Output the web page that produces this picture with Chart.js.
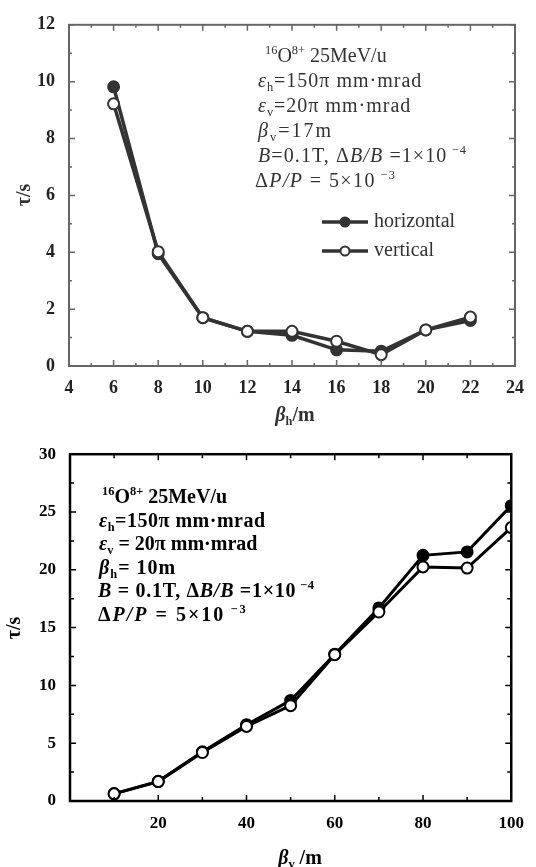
<!DOCTYPE html>
<html>
<head>
<meta charset="utf-8">
<script src="https://cdn.jsdelivr.net/npm/chart.js@4/dist/chart.umd.min.js"></script>
<style>
  html, body { margin: 0; padding: 0; background: #fff; }
  #wrap { position: relative; width: 536px; height: 867px; overflow: hidden; }
  .box { position: absolute; left: 0; width: 536px; }
  #topBox { top: 0; height: 430px; }
  #bottomBox { top: 430px; height: 437px; }
</style>
</head>
<body>
<div id="wrap">
  <div class="box" id="topBox"><canvas id="topChart" width="536" height="430"></canvas></div>
  <div class="box" id="bottomBox"><canvas id="bottomChart" width="536" height="437"></canvas></div>
</div>
<script>
// data
const topBetaH = [6, 8, 10, 12, 14, 16, 18, 20, 22];
const topHorizontal = [9.82, 3.95, 1.7, 1.22, 1.08, 0.57, 0.52, 1.27, 1.6];
const topVertical = [9.22, 4.02, 1.7, 1.22, 1.22, 0.87, 0.4, 1.27, 1.72];
const topXTicks = [4, 6, 8, 10, 12, 14, 16, 18, 20, 22, 24];
const topYTicks = [0, 2, 4, 6, 8, 10, 12];

const bottomBetaV = [10, 20, 30, 40, 50, 60, 70, 80, 90, 100];
const bottomHorizontal = [0.64, 1.7, 4.25, 6.6, 8.7, 12.7, 16.7, 21.25, 21.55, 25.55];
const bottomVertical = [0.62, 1.68, 4.2, 6.45, 8.25, 12.66, 16.35, 20.25, 20.15, 23.65];
const bottomXTicks = [0, 20, 40, 60, 80, 100];
const bottomYTicks = [0, 5, 10, 15, 20, 25, 30];

const legendNames = ['horizontal', 'vertical'];

// annotation text: [text, flags]  i = italic, b = subscript, p = superscript
const topNotes = [
  [['16', 'p'], ['O'], ['8+', 'p'], [' 25MeV/u']],
  [['ε', 'i'], ['h', 'b'], ['=150π mm·mrad']],
  [['ε', 'i'], ['v', 'b'], ['=20π mm·mrad']],
  [['β', 'i'], ['v', 'b'], ['=17m']],
  [['B', 'i'], ['=0.1T, Δ'], ['B/B', 'i'], [' =1×10'], [' −4', 'p']],
  [['Δ'], ['P/P', 'i'], [' = 5×10'], [' −3', 'p']]
];
const bottomNotes = [
  [['16', 'p'], ['O'], ['8+', 'p'], [' 25MeV/u']],
  [['ε', 'i'], ['h', 'b'], ['=150π mm·mrad']],
  [['ε', 'i'], ['v', 'b'], [' = 20π mm·mrad']],
  [['β', 'i'], ['h', 'b'], ['= 10m']],
  [['B', 'i'], [' = 0.1T, Δ'], ['B/B', 'i'], [' =1×10'], [' −4', 'p']],
  [['Δ'], ['P/P', 'i'], [' = 5×10'], [' −3', 'p']]
];

const SERIF = '"Liberation Serif", "DejaVu Serif", serif';

function setFont(ctx, f, size, weight) {
  const s = (f.includes('b') || f.includes('p')) ? size * 0.62 : size;
  ctx.font = (f.includes('i') ? 'italic ' : '') + weight + ' ' + s + 'px ' + SERIF;
}

function drawRich(ctx, x, y, segs, size, weight, spacing) {
  ctx.letterSpacing = (spacing || 0) + 'px';
  let cx = x;
  for (const seg of segs) {
    const t = seg[0], f = seg[1] || '';
    setFont(ctx, f, size, weight);
    let dy = 0;
    if (f.includes('b')) dy = size * 0.2;
    if (f.includes('p')) dy = -size * 0.4;
    ctx.fillText(t, cx, y + dy);
    cx += ctx.measureText(t).width;
  }
  ctx.letterSpacing = '0px';
  return cx - x;
}

function richWidth(ctx, segs, size, weight) {
  let w = 0;
  for (const seg of segs) {
    setFont(ctx, seg[1] || '', size, weight);
    w += ctx.measureText(seg[0]).width;
  }
  return w;
}

// frame, inward ticks, notes, titles, legend
const decor = {
  id: 'decor',
  afterDatasetsDraw(chart, args, o) {
    const ctx = chart.ctx;
    const a = chart.chartArea;
    const xs = chart.scales.x, ys = chart.scales.y;
    ctx.save();
    ctx.strokeStyle = o.frameColor;
    ctx.lineWidth = o.frameWidth;
    ctx.strokeRect(a.left, a.top, a.right - a.left, a.bottom - a.top);
    ctx.lineWidth = o.tickWidth;
    ctx.beginPath();
    for (let v = xs.min; v <= xs.max + 1e-9; v += o.xMinor) {
      const px = xs.getPixelForValue(v);
      const major = Math.abs(v / o.xMajor - Math.round(v / o.xMajor)) < 1e-6;
      const len = major ? o.majorLen : o.minorLen;
      ctx.moveTo(px, a.bottom); ctx.lineTo(px, a.bottom - len);
      ctx.moveTo(px, a.top); ctx.lineTo(px, a.top + len);
    }
    for (let v = ys.min; v <= ys.max + 1e-9; v += o.yMinor) {
      const py = ys.getPixelForValue(v);
      const major = Math.abs(v / o.yMajor - Math.round(v / o.yMajor)) < 1e-6;
      const len = major ? o.majorLen : o.minorLen;
      ctx.moveTo(a.left, py); ctx.lineTo(a.left + len, py);
      ctx.moveTo(a.right, py); ctx.lineTo(a.right - len, py);
    }
    ctx.stroke();

    // notes
    ctx.fillStyle = o.textColor;
    ctx.textBaseline = 'alphabetic';
    ctx.textAlign = 'left';
    o.notes.forEach((line, i) => {
      drawRich(ctx, o.noteX[i], o.noteY + i * o.noteGap, line, o.noteSize, o.noteWeight, o.noteSpacing[i]);
    });

    // x title
    const xt = o.xTitle;
    const xw = richWidth(ctx, xt, o.titleSize, 'bold');
    drawRich(ctx, o.xTitlePos[0] - xw / 2, o.xTitlePos[1], xt, o.titleSize, 'bold');
    // y title
    ctx.save();
    ctx.translate(o.yTitlePos[0], o.yTitlePos[1]);
    ctx.rotate(-Math.PI / 2);
    const yw = richWidth(ctx, o.yTitle, o.titleSize, 'bold');
    drawRich(ctx, -yw / 2, 0, o.yTitle, o.titleSize, 'bold');
    ctx.restore();

    // legend
    if (o.legend) {
      const L = o.legend;
      chart.data.datasets.forEach((ds, i) => {
        const y = L.y + L.gap * L.order[i];
        ctx.strokeStyle = ds.borderColor;
        ctx.lineWidth = ds.borderWidth;
        ctx.beginPath();
        ctx.moveTo(L.x, y); ctx.lineTo(L.x + L.len, y);
        ctx.stroke();
        ctx.beginPath();
        ctx.arc(L.x + L.len / 2, y, L.r, 0, Math.PI * 2);
        ctx.fillStyle = ds.pointBackgroundColor;
        ctx.fill();
        ctx.lineWidth = ds.pointBorderWidth;
        ctx.strokeStyle = ds.pointBorderColor;
        ctx.stroke();
        ctx.fillStyle = o.textColor;
        ctx.font = L.size + 'px ' + SERIF;
        ctx.textBaseline = 'middle';
        ctx.fillText(ds.label, L.x + L.len + 6, y);
      });
    }
    ctx.restore();
  }
};

function makeChart(id, cfg) {
  const toPts = (xs, ys) => xs.map((x, i) => ({ x: x, y: ys[i] }));
  const line = cfg.lineColor;
  return new Chart(document.getElementById(id), {
    type: 'line',
    data: {
      datasets: [
        {
          label: legendNames[0],
          data: toPts(cfg.x, cfg.h),
          borderColor: line, borderWidth: cfg.lineWidth,
          pointRadius: cfg.r, pointBackgroundColor: line,
          pointBorderColor: line, pointBorderWidth: cfg.pbw,
          order: 2
        },
        {
          label: legendNames[1],
          data: toPts(cfg.x, cfg.v),
          borderColor: line, borderWidth: cfg.lineWidth,
          pointRadius: cfg.r, pointBackgroundColor: '#ffffff',
          pointBorderColor: line, pointBorderWidth: cfg.pbw,
          order: 1
        }
      ]
    },
    options: {
      responsive: false,
      animation: false,
      devicePixelRatio: 1,
      layout: { padding: cfg.pad },
      plugins: { legend: { display: false }, tooltip: { enabled: false }, decor: cfg.decor },
      scales: {
        x: {
          type: 'linear', min: cfg.xTicks[0], max: cfg.xTicks[cfg.xTicks.length - 1],
          grid: { display: false, drawTicks: false }, border: { display: false },
          afterBuildTicks: s => { s.ticks = cfg.xTicks.map(v => ({ value: v })); },
          afterFit: s => { s.height = cfg.xH; },
          ticks: {
            padding: cfg.xPad, color: cfg.tickColor, maxRotation: 0,
            font: { family: SERIF, size: cfg.tickSize, weight: 'bold' },
            callback: v => (cfg.hideZero && v === 0) ? '' : String(v)
          }
        },
        y: {
          type: 'linear', min: cfg.yTicks[0], max: cfg.yTicks[cfg.yTicks.length - 1],
          grid: { display: false, drawTicks: false }, border: { display: false },
          afterBuildTicks: s => { s.ticks = cfg.yTicks.map(v => ({ value: v })); },
          afterFit: s => { s.width = cfg.yW; },
          ticks: {
            padding: cfg.yPad, color: cfg.tickColor,
            font: { family: SERIF, size: cfg.tickSize, weight: 'bold' }
          }
        }
      }
    },
    plugins: [decor]
  });
}

makeChart('topChart', {
  x: topBetaH, h: topHorizontal, v: topVertical,
  xTicks: topXTicks, yTicks: topYTicks,
  lineColor: '#333333', lineWidth: 3.5, r: 5.5, pbw: 2,
  pad: { top: 19, right: 18, left: 0, bottom: 0 },
  xH: 64, yW: 69, xPad: 12, yPad: 14, tickSize: 18, tickColor: '#222',
  decor: {
    frameColor: '#666', frameWidth: 2, tickWidth: 1.5,
    xMajor: 2, xMinor: 1, yMajor: 2, yMinor: 1, majorLen: 6, minorLen: 3,
    textColor: '#333',
    notes: topNotes, noteX: [265, 258, 258, 258, 258, 255], noteY: 62, noteGap: 25,
    noteSize: 20, noteWeight: 'normal', noteSpacing: [0, 1, 1, 2, 1.1, 1.4],
    xTitle: [['β', 'i'], ['h', 'b'], ['/m']], xTitlePos: [295, 421],
    yTitle: [['τ/s']], yTitlePos: [30, 195], titleSize: 20,
    legend: { x: 322, y: 222, gap: 29, len: 46, r: 4.5, size: 20, order: [0, 1] }
  }
});

makeChart('bottomChart', {
  x: bottomBetaV, h: bottomHorizontal, v: bottomVertical,
  xTicks: bottomXTicks, yTicks: bottomYTicks, hideZero: true,
  lineColor: '#000000', lineWidth: 3, r: 5.5, pbw: 2,
  pad: { top: 23, right: 15, left: 0, bottom: 0 },
  xH: 66, yW: 70, xPad: 12, yPad: 14, tickSize: 17, tickColor: '#000',
  decor: {
    frameColor: '#000', frameWidth: 2.5, tickWidth: 1.5,
    xMajor: 20, xMinor: 10, yMajor: 5, yMinor: 2.5, majorLen: 6, minorLen: 4,
    textColor: '#000',
    notes: bottomNotes, noteX: [102, 99, 99, 99, 98, 98], noteY: 73, noteGap: 23.5,
    noteSize: 20, noteWeight: 'bold', noteSpacing: [0, 0.5, 0, 1, 0.7, 2],
    xTitle: [['β', 'i'], ['v', 'b'], [' /m']], xTitlePos: [300, 434],
    yTitle: [['τ/s']], yTitlePos: [20, 198], titleSize: 20
  }
});
</script>
</body>
</html>
